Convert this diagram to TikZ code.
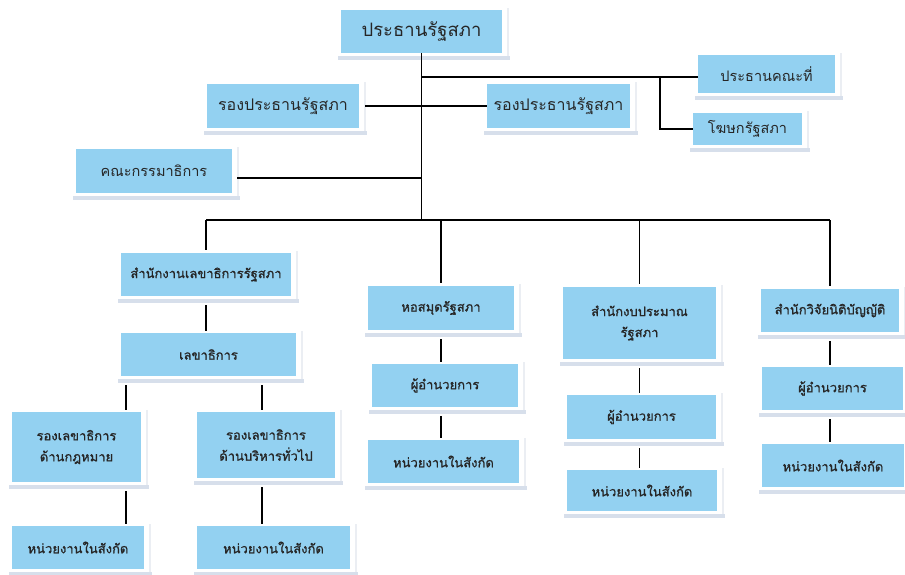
\documentclass[tikz,border=0pt]{standalone}
\usepackage{fontspec}
\usepackage{xcolor}
\usepackage{tikz}
\newfontfamily\thaifont[Script=Thai]{Loma}
\newfontfamily\thaibold[Script=Thai, FakeBold=1.0]{Loma}
\definecolor{boxblue}{HTML}{93D1F1}
\definecolor{shadeband}{HTML}{D7DFEB}
\definecolor{shadeline}{HTML}{EBEEF3}
\definecolor{inkgray}{HTML}{262626}

\begin{document}
\begin{tikzpicture}[x=1pt, y=-1pt,
    box/.style={fill=boxblue, draw=none, inner sep=2pt, align=center, text=inkgray, font=\thaibold\fontsize{13}{21}\selectfont},
    bigbox/.style={box, font=\thaifont\fontsize{18.5}{22}\selectfont},
    midbox/.style={box, font=\thaifont\fontsize{16}{20}\selectfont},
    smallbox/.style={box, font=\thaifont\fontsize{14.5}{18}\selectfont},
    link/.style={draw=black, line width=1.4pt},
    down/.style={link, shorten <=9pt, shorten >=2pt}]
\useasboundingbox (0,0) rectangle (905,574);

\node[bigbox, minimum width=161, minimum height=43] (pres) at (421.5,31.5) {ประธานรัฐสภา};
\node[smallbox, minimum width=137, minimum height=38] (chair) at (766.5,74) {ประธานคณะที่};
\node[smallbox, minimum width=109, minimum height=32] (spokes) at (747.5,129) {โฆษกรัฐสภา};
\node[midbox, minimum width=152, minimum height=44] (vpl) at (283,106) {รองประธานรัฐสภา};
\node[midbox, minimum width=143, minimum height=44] (vpr) at (558.5,106) {รองประธานรัฐสภา};
\node[smallbox, minimum width=156, minimum height=44] (comm) at (154,171) {คณะกรรมาธิการ};

\node[box, minimum width=170, minimum height=43] (secoff) at (206,274.5) {สำนักงานเลขาธิการรัฐสภา};
\node[box, minimum width=175, minimum height=43] (secgen) at (208.5,354.5) {เลขาธิการ};
\node[box, minimum width=129, minimum height=70] (deplaw) at (76.5,447) {รองเลขาธิการ\\ด้านกฎหมาย};
\node[box, minimum width=138, minimum height=66] (depadm) at (266,445) {รองเลขาธิการ\\ด้านบริหารทั่วไป};
\node[box, minimum width=132, minimum height=43] (unitlaw) at (78,547.5) {หน่วยงานในสังกัด};
\node[box, minimum width=153, minimum height=43] (unitadm) at (273.5,547.5) {หน่วยงานในสังกัด};

\node[box, minimum width=146, minimum height=44] (lib) at (441,308) {หอสมุดรัฐสภา};
\node[box, minimum width=146, minimum height=43] (libdir) at (445,385.5) {ผู้อำนวยการ};
\node[box, minimum width=151, minimum height=43] (libunit) at (443.5,461.5) {หน่วยงานในสังกัด};

\node[box, minimum width=153, minimum height=72] (bud) at (639.5,323) {สำนักงบประมาณ\\รัฐสภา};
\node[box, minimum width=149, minimum height=44] (buddir) at (641.5,417) {ผู้อำนวยการ};
\node[box, minimum width=150, minimum height=41] (budunit) at (642,490.5) {หน่วยงานในสังกัด};

\node[box, minimum width=138, minimum height=43] (res) at (830,310.5) {สำนักวิจัยนิติบัญญัติ};
\node[box, minimum width=141, minimum height=43] (resdir) at (832.5,388.5) {ผู้อำนวยการ};
\node[box, minimum width=142, minimum height=43] (resunit) at (833,465.5) {หน่วยงานในสังกัด};

\foreach \n in {pres,chair,spokes,vpl,vpr,comm,secoff,secgen,deplaw,depadm,unitlaw,unitadm,lib,libdir,libunit,bud,buddir,budunit,res,resdir,resunit}
{
    \fill[shadeband] ([xshift=-3pt,yshift=-3pt]\n.south west) rectangle ([xshift=8pt,yshift=-7pt]\n.south east);
    \fill[shadeline] ([xshift=5pt,yshift=2pt]\n.north east) rectangle ([xshift=7pt,yshift=-3pt]\n.south east);
}

\coordinate (hub) at (421.5,220);
\coordinate (tap) at (421.5,77);
\coordinate (fork) at (660,77);
\coordinate (commtap) at ([shift={(5,7)}]comm.east);
\coordinate (lawx) at (126,0);
\coordinate (admx) at (262,0);

\draw[link] (pres.south) -- (hub);
\draw[link] (tap) -- (tap -| chair.west);
\draw[link] (fork) |- (spokes.west);
\draw[link, shorten <=6pt] (vpl.east) -- (vpr.west);
\draw[link] (commtap) -- (commtap -| hub);
\draw[link] (secoff.north |- hub) -- (res.north |- hub);
\foreach \n in {secoff,lib,bud,res}
    \draw[link, shorten >=3pt] (\n.north |- hub) -- (\n.north);

\draw[down] (secoff.south) -- (secoff.south |- secgen.north);
\draw[down] (lawx |- secgen.south) -- (lawx |- deplaw.north);
\draw[down] (admx |- secgen.south) -- (admx |- depadm.north);
\draw[down] (lawx |- deplaw.south) -- (lawx |- unitlaw.north);
\draw[down] (admx |- depadm.south) -- (admx |- unitadm.north);
\draw[down] (lib.south) -- (lib.south |- libdir.north);
\draw[down] (lib.south |- libdir.south) -- (lib.south |- libunit.north);
\draw[down] (bud.south) -- (bud.south |- buddir.north);
\draw[down] (bud.south |- buddir.south) -- (bud.south |- budunit.north);
\draw[down] (res.south) -- (res.south |- resdir.north);
\draw[down] (res.south |- resdir.south) -- (res.south |- resunit.north);
\end{tikzpicture}
\end{document}
